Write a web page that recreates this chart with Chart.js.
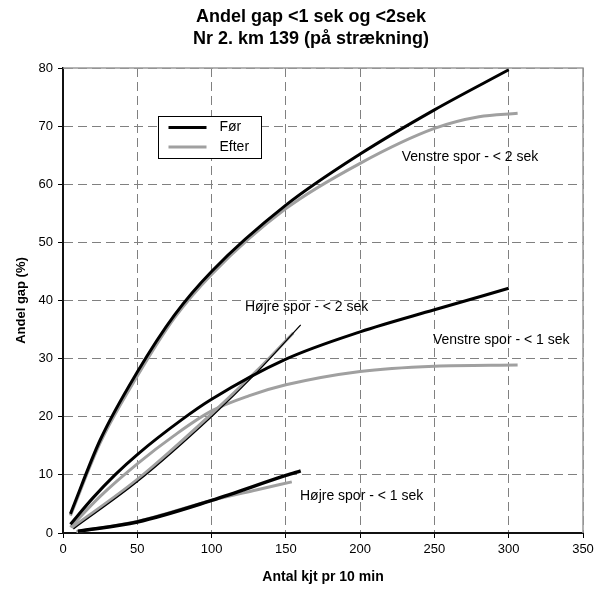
<!DOCTYPE html>
<html>
<head>
<meta charset="utf-8">
<script src="https://cdn.jsdelivr.net/npm/chart.js@4.4.1/dist/chart.umd.min.js"></script>
<style>
  html, body { margin: 0; padding: 0; background: #fff; }
  canvas { display: block; }
</style>
</head>
<body>
<canvas id="chart" width="611" height="589"></canvas>
<script>
// Antal kjt pr 10 min (x) against Andel gap % (y)
const venstre2ForX = [5, 25, 50, 75, 100, 150, 200, 250, 300];
const venstre2ForY = [3.3, 16, 27.7, 37.5, 45, 56.4, 65.2, 72.8, 79.7];
const venstre2EfterX = [5, 25, 50, 75, 100, 150, 200, 250, 280, 306];
const venstre2EfterY = [3, 15.5, 27, 37, 44.5, 55.8, 63.6, 69.6, 71.6, 72.2];

const venstre1ForX = [5, 20, 35, 50, 80, 100, 150, 200, 250, 300];
const venstre1ForY = [1.5, 6, 10, 13.5, 19.5, 23, 29.9, 34.6, 38.4, 42.1];
const venstre1EfterX = [5, 25, 50, 75, 100, 125, 150, 200, 250, 306];
const venstre1EfterY = [1, 6.3, 11.9, 16.8, 21, 23.6, 25.5, 27.8, 28.7, 28.9];

const hojre2ForX = [7, 50, 100, 130, 160];
const hojre2ForY = [0.7, 8.8, 20, 27.5, 35.8];
const hojre2EfterX = [6, 50, 100, 130, 155];
const hojre2EfterY = [0.9, 9.2, 20.5, 27.8, 34.4];

const hojre1ForX = [10, 50, 100, 150, 160];
const hojre1ForY = [0.3, 1.9, 5.6, 9.9, 10.7];
const hojre1EfterX = [9, 50, 100, 130, 154];
const hojre1EfterY = [0.2, 2, 5.6, 7.4, 8.8];

const xTickValues = [0, 50, 100, 150, 200, 250, 300, 350];
const yTickValues = [0, 10, 20, 30, 40, 50, 60, 70, 80];

const titleLines = ['Andel gap <1 sek og <2sek', 'Nr 2. km 139 (på strækning)'];
const legendLabels = ['Før', 'Efter'];

// curve labels, anchored in data units (left edge, middle of text)
const noteTexts = ['Venstre spor - < 2 sek', 'Venstre spor - < 1 sek', 'Højre spor - < 2 sek', 'Højre spor - < 1 sek'];
const noteX = [228, 249, 122.5, 159.5];
const noteY = [64.6, 33.2, 38.8, 6.4];

const FONT = '"Liberation Sans", Arial, Helvetica, sans-serif';
const BLACK = '#000000';
const GREY = '#a0a0a0';

Chart.defaults.font.family = FONT;
Chart.defaults.font.size = 13;
Chart.defaults.color = '#000';

const pts = (xs, ys) => xs.map((x, i) => ({ x: x, y: ys[i] }));

const series = (data, color, width) => ({
  data: data,
  borderColor: color,
  borderWidth: width,
  pointRadius: 0,
  pointHoverRadius: 0,
  fill: false,
  cubicInterpolationMode: 'monotone'
});

// first in the list is painted last, so the black lines sit on top
const datasets = [
  series(pts(hojre2ForX, hojre2ForY), BLACK, 1.3),
  series(pts(venstre2ForX, venstre2ForY), BLACK, 3),
  series(pts(venstre1ForX, venstre1ForY), BLACK, 3),
  series(pts(hojre1ForX, hojre1ForY), BLACK, 3.5),
  series(pts(venstre2EfterX, venstre2EfterY), GREY, 3),
  series(pts(venstre1EfterX, venstre1EfterY), GREY, 3),
  series(pts(hojre2EfterX, hojre2EfterY), GREY, 3),
  series(pts(hojre1EfterX, hojre1EfterY), GREY, 3)
];

const decor = {
  id: 'decor',
  beforeDatasetsDraw(chart) {
    // solid grey frame on top and right side
    const { ctx, chartArea: a } = chart;
    ctx.save();
    ctx.strokeStyle = '#9a9a9a';
    ctx.lineWidth = 1.5;
    ctx.beginPath();
    ctx.moveTo(a.left, a.top);
    ctx.lineTo(a.right, a.top);
    ctx.lineTo(a.right, a.bottom);
    ctx.stroke();
    ctx.restore();
  },
  afterDatasetsDraw(chart) {
    const { ctx, chartArea: a } = chart;
    const xs = chart.scales.x;
    const ys = chart.scales.y;
    ctx.save();
    ctx.font = '14px ' + FONT;
    ctx.fillStyle = '#000';
    ctx.textBaseline = 'middle';
    ctx.textAlign = 'left';
    for (let i = 0; i < noteTexts.length; i++) {
      ctx.fillText(noteTexts[i], xs.getPixelForValue(noteX[i]), ys.getPixelForValue(noteY[i]));
    }

    // legend box
    const lx = a.left + 95.5;
    const ly = a.top + 48.5;
    ctx.fillStyle = '#fff';
    ctx.fillRect(lx, ly, 103, 42);
    ctx.strokeStyle = '#000';
    ctx.lineWidth = 1;
    ctx.strokeRect(lx, ly, 103, 42);
    const colors = [BLACK, GREY];
    for (let i = 0; i < legendLabels.length; i++) {
      const y = ly + 11 + i * 19.5;
      ctx.strokeStyle = colors[i];
      ctx.lineWidth = 3;
      ctx.beginPath();
      ctx.moveTo(lx + 10, y);
      ctx.lineTo(lx + 48, y);
      ctx.stroke();
      ctx.fillStyle = '#000';
      ctx.fillText(legendLabels[i], lx + 61, y);
    }
    ctx.restore();
  },
  afterDraw(chart) {
    const ctx = chart.ctx;
    ctx.save();
    ctx.font = 'bold 18px ' + FONT;
    ctx.fillStyle = '#000';
    ctx.textAlign = 'center';
    ctx.textBaseline = 'middle';
    ctx.fillText(titleLines[0], 311, 17);
    ctx.fillText(titleLines[1], 311, 39);
    ctx.restore();
  }
};

new Chart(document.getElementById('chart'), {
  type: 'line',
  data: { datasets: datasets },
  options: {
    responsive: false,
    animation: false,
    devicePixelRatio: 1,
    layout: { padding: { top: 68, right: 28, left: 0, bottom: 0 } },
    plugins: {
      legend: { display: false },
      tooltip: { enabled: false },
      title: { display: false }
    },
    scales: {
      x: {
        type: 'linear',
        min: 0,
        max: 350,
        afterFit: (s) => { s.height = 56; },
        afterBuildTicks: (s) => { s.ticks = xTickValues.map((v) => ({ value: v })); },
        grid: {
          color: '#808080',
          lineWidth: 1,
          tickLength: 5,
          tickColor: '#000',
          tickBorderDash: [],
          tickWidth: 1
        },
        border: { display: true, color: '#111', width: 2, dash: [9, 5] },
        ticks: { padding: 4, maxRotation: 0, font: { size: 13 } },
        title: {
          display: true,
          text: 'Antal kjt pr 10 min',
          font: { size: 14, weight: 'bold' },
          padding: { top: 0, bottom: 3 }
        }
      },
      y: {
        type: 'linear',
        min: 0,
        max: 80,
        afterFit: (s) => { s.width = 63; },
        afterBuildTicks: (s) => { s.ticks = yTickValues.map((v) => ({ value: v })); },
        grid: {
          color: '#808080',
          lineWidth: 1,
          tickLength: 5,
          tickColor: '#000',
          tickBorderDash: [],
          tickWidth: 1
        },
        border: { display: true, color: '#111', width: 2, dash: [9, 5] },
        ticks: { padding: 5, font: { size: 13 } },
        title: {
          display: true,
          text: 'Andel gap (%)',
          font: { size: 13, weight: 'bold' },
          padding: { top: 14, bottom: 0 }
        }
      }
    }
  },
  plugins: [decor]
});
</script>
</body>
</html>
